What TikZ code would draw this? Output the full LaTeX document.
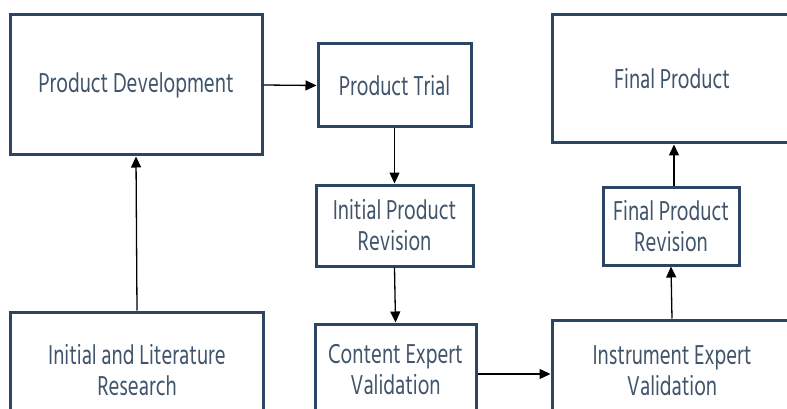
\documentclass[tikz,border=0pt]{standalone}
\usepackage{fontspec}
\setmainfont[FakeStretch=0.74]{Hind Siliguri}
\usetikzlibrary{arrows.meta}
\definecolor{boxline}{HTML}{2C4562}
\definecolor{boxtext}{HTML}{40546C}
\tikzset{
  box/.style={draw=boxline, line width=3pt, fill=white, align=center,
    text=boxtext, font=\fontsize{28}{31}\selectfont, inner sep=0pt},
  arr/.style={draw=black, line width=1.3pt, -{Triangle[length=11pt,width=10pt]}}
}
\begin{document}
\begin{tikzpicture}[x=1pt,y=-1pt]
\useasboundingbox (0,0) rectangle (787,409);
\clip (0,0) rectangle (787,409);
\fill[white] (0,0) rectangle (787,409);
\node[box, minimum width=252pt, minimum height=140pt] (PD) at (136,85) {Product Development};
\node[box, minimum width=153pt, minimum height=83pt] (PT) at (394.5,85.5) {Product Trial};
\node[box, minimum width=157pt, minimum height=81pt] (IPR) at (394.5,225.5) {Initial Product\\Revision};
\node[box, minimum width=240pt, minimum height=128pt] (FP) at (672,79) {Final Product};
\node[box, minimum width=136pt, minimum height=78pt] (FPR) at (671,226) {Final Product\\Revision};
\node[box, minimum width=240pt, minimum height=102pt] (IEV) at (672,371) {Instrument Expert\\Validation};
\node[box, minimum width=161pt, minimum height=92pt] (CEV) at (395.5,370) {Content Expert\\Validation};
\node[box, minimum width=253pt, minimum height=116pt] (ILR) at (137,370) {Initial and Literature\\Research};
\draw[arr] (PD.east) -- (PT.west);
\draw[arr] (PT.south) -- (IPR.north);
\draw[arr] (IPR.south) -- (CEV.north);
\draw[arr] ([yshift=-4pt]CEV.east) -- ([yshift=-4pt]CEV.east -| IEV.west);
\draw[arr] (IEV.north) -- (FPR.south);
\draw[arr] ([xshift=3pt]FPR.north) -- ([xshift=3pt]FPR.north |- FP.south);
\draw[arr] (ILR.north) -- (PD.south);
\end{tikzpicture}
\end{document}
